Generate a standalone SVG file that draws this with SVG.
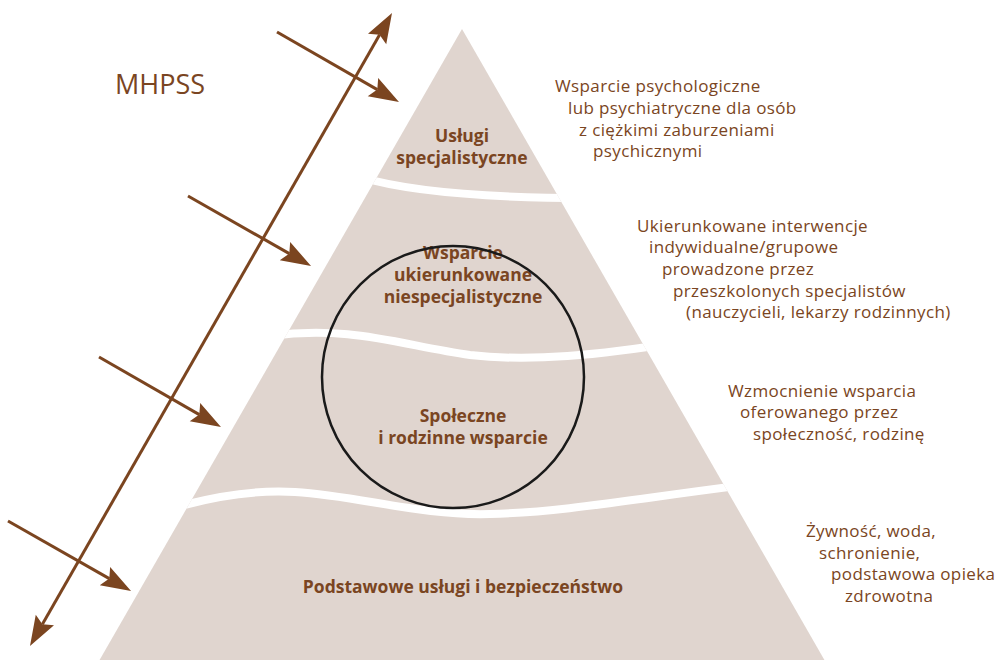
<svg xmlns="http://www.w3.org/2000/svg" width="1001" height="660" viewBox="0 0 1001 660">
  <style>
    .lbl { font-family: "Open Sans", "Noto Sans", "DejaVu Sans", sans-serif; font-size: 17.5px; font-weight: bold; fill: #7a4522; text-anchor: middle; }
    .desc { font-family: "Open Sans", "Noto Sans", "DejaVu Sans", sans-serif; font-size: 17px; letter-spacing: 0.38px; fill: #7a4522; }
    .title { font-family: "Open Sans", "Noto Sans", "DejaVu Sans", sans-serif; font-size: 27px; fill: #7a4522; }
    .arrow { stroke: #7b4520; stroke-width: 3; fill: none; marker-end: url(#head); }
    .gap { stroke: #ffffff; stroke-width: 8; fill: none; }
  </style>
  <defs>
    <marker id="head" markerUnits="userSpaceOnUse" viewBox="0 -11 31 22" refX="5" refY="0" markerWidth="31" markerHeight="22" orient="auto-start-reverse" overflow="visible">
      <path d="M0,-10.5 L30,0 L0,10.5 L5,0 Z" fill="#7b4520"/>
    </marker>
    <clipPath id="tri">
      <polygon points="462,29 99,661 825,661"/>
    </clipPath>
  </defs>
  <rect width="1001" height="660" fill="#ffffff"/>

  <g id="pyramid">
    <polygon points="462,29 99,661 825,661" fill="#e0d5cf"/>
    <g clip-path="url(#tri)">
      <path class="gap" d="M360,177 Q430,198 590,198"/>
      <path class="gap" d="M270,336 C350,325 400,345 470,355 C530,362 600,355 680,342"/>
      <path class="gap" d="M170,509 C220,494 260,490 295,492 C360,496 420,516 490,514 C570,512 650,496 770,482"/>
    </g>
  </g>

  <g id="title">
    <text class="title" x="115" y="94">MHPSS</text>
  </g>

  <g id="level-specialist">
    <text class="lbl" x="462" y="142">Usługi</text>
    <text class="lbl" x="462" y="164">specjalistyczne</text>
  </g>
  <g id="level-targeted">
    <text class="lbl" x="463" y="259">Wsparcie</text>
    <text class="lbl" x="463" y="281">ukierunkowane</text>
    <text class="lbl" x="463" y="303">niespecjalistyczne</text>
  </g>
  <g id="level-community">
    <text class="lbl" x="463" y="422">Społeczne</text>
    <text class="lbl" x="463" y="444">i rodzinne wsparcie</text>
  </g>
  <g id="level-basic">
    <text class="lbl" x="463" y="593">Podstawowe usługi i bezpieczeństwo</text>
  </g>

  <g id="circle">
    <circle cx="453" cy="377" r="131" fill="none" stroke="#1a1a1a" stroke-width="2.5"/>
  </g>

  <g id="desc-specialist">
    <text class="desc" x="555" y="92">Wsparcie psychologiczne</text>
    <text class="desc" x="568" y="114">lub psychiatryczne dla osób</text>
    <text class="desc" x="579" y="136">z ciężkimi zaburzeniami</text>
    <text class="desc" x="593" y="157">psychicznymi</text>
  </g>
  <g id="desc-targeted">
    <text class="desc" x="637" y="232">Ukierunkowane interwencje</text>
    <text class="desc" x="649" y="253">indywidualne/grupowe</text>
    <text class="desc" x="662" y="275">prowadzone przez</text>
    <text class="desc" x="673" y="297">przeszkolonych specjalistów</text>
    <text class="desc" x="686" y="318">(nauczycieli, lekarzy rodzinnych)</text>
  </g>
  <g id="desc-community">
    <text class="desc" x="728" y="397">Wzmocnienie wsparcia</text>
    <text class="desc" x="740" y="418">oferowanego przez</text>
    <text class="desc" x="753" y="440">społeczność, rodzinę</text>
  </g>
  <g id="desc-basic">
    <text class="desc" x="806" y="537">Żywność, woda,</text>
    <text class="desc" x="819" y="559">schronienie,</text>
    <text class="desc" x="831" y="580">podstawowa opieka</text>
    <text class="desc" x="845" y="602">zdrowotna</text>
  </g>

  <g id="connectors">
    <path class="arrow" d="M42.4,624.3 L379.6,34.7" style="marker-start:url(#head)"/>
    <path class="arrow" d="M277,32 L377.3,89.6"/>
    <path class="arrow" d="M188,196 L289.3,253.6"/>
    <path class="arrow" d="M99,357 L199.3,414.6"/>
    <path class="arrow" d="M8,521 L109.3,578.6"/>
  </g>
</svg>
